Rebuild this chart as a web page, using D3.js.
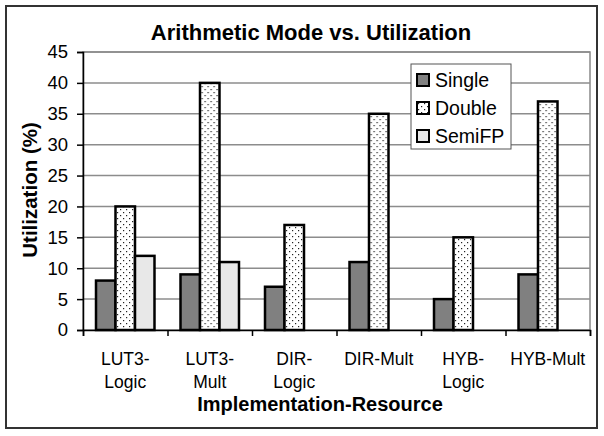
<!DOCTYPE html>
<html>
<head>
<meta charset="utf-8">
<script src="https://cdn.jsdelivr.net/npm/d3@7"></script>
<style>
  body { margin: 0; background: #fff; }
  text { font-family: "Liberation Sans", Arial, sans-serif; }
</style>
</head>
<body>
<div class="canvas"></div>
<script>
// Data
const categories = [['LUT3-', 'Logic'], ['LUT3-', 'Mult'], ['DIR-', 'Logic'], ['DIR-Mult'], ['HYB-', 'Logic'], ['HYB-Mult']];
const seriesNames = ['Single', 'Double', 'SemiFP'];
const single = [8, 9, 7, 11, 5, 9];
const double = [20, 40, 17, 35, 15, 37];
const semiFP = [12, 11, null, null, null, null];
const yTicks = [0, 5, 10, 15, 20, 25, 30, 35, 40, 45];

const width = 604, height = 436;
const margin = {top: 52, right: 14, bottom: 106, left: 83};
const graphWidth = width - margin.left - margin.right;
const graphHeight = height - margin.top - margin.bottom;

const svg = d3.select('.canvas')
    .append('svg')
    .attr('width', width)
    .attr('height', height);

// patterns
const defs = svg.append('defs');
const dots = defs.append('pattern')
    .attr('id', 'dots')
    .attr('patternUnits', 'userSpaceOnUse')
    .attr('width', 6)
    .attr('height', 6);
dots.append('rect').attr('width', 6).attr('height', 6).attr('fill', '#fff');
dots.append('rect').attr('x', 1).attr('y', 1).attr('width', 1.2).attr('height', 1.2).attr('fill', '#222');
dots.append('rect').attr('x', 4).attr('y', 4).attr('width', 1.2).attr('height', 1.2).attr('fill', '#222');

const fills = {Single: '#808080', Double: 'url(#dots)', SemiFP: '#e8e8e8'};

// outer frame
svg.append('rect')
    .attr('x', 6).attr('y', 6)
    .attr('width', 591).attr('height', 422)
    .attr('fill', '#fff')
    .attr('stroke', '#333')
    .attr('stroke-width', 2);

const graph = svg.append('g')
    .attr('transform', `translate(${margin.left}, ${margin.top})`);

const x0 = d3.scaleBand()
    .domain(d3.range(categories.length))
    .range([0, graphWidth]);

const x1 = d3.scaleBand()
    .domain(seriesNames)
    .range([0, x0.bandwidth()])
    .paddingInner(0)
    .paddingOuter(0.667);

const y = d3.scaleLinear().domain([0, 45]).range([graphHeight, 0]);

// plot area border + gridlines
graph.append('rect')
    .attr('width', graphWidth).attr('height', graphHeight)
    .attr('fill', '#fff')
    .attr('stroke', '#888')
    .attr('stroke-width', 1.5);

graph.append('g')
    .selectAll('line')
    .data(yTicks.slice(1))
    .enter().append('line')
    .attr('x1', 0).attr('x2', graphWidth)
    .attr('y1', d => y(d)).attr('y2', d => y(d))
    .attr('stroke', '#8c8c8c')
    .attr('stroke-width', 1.5);

// bars
const table = categories.map((c, i) => ({i, values: [single[i], double[i], semiFP[i]]}));

const groups = graph.selectAll('g.group')
    .data(table)
    .enter().append('g')
    .attr('class', 'group')
    .attr('transform', d => `translate(${x0(d.i)}, 0)`);

groups.selectAll('rect')
    .data(d => d.values.map((v, k) => ({name: seriesNames[k], value: v})).filter(e => e.value != null))
    .enter().append('rect')
    .attr('x', d => x1(d.name))
    .attr('width', x1.bandwidth())
    .attr('y', d => y(d.value))
    .attr('height', d => graphHeight - y(d.value))
    .attr('fill', d => fills[d.name])
    .attr('stroke', '#000')
    .attr('stroke-width', 2.5);

// Axes
const yAxis = d3.axisLeft(y)
    .tickValues(yTicks)
    .tickSize(6)
    .tickPadding(9);

const yAxisGroup = graph.append('g').call(yAxis);
yAxisGroup.select('.domain').attr('stroke', '#000').attr('stroke-width', 1.5);
yAxisGroup.selectAll('line').attr('stroke', '#000').attr('stroke-width', 1.5);
yAxisGroup.selectAll('text')
    .attr('font-size', 18.5)
    .attr('fill', '#000')
    .attr('font-family', '"Liberation Sans", Arial, sans-serif');

const xTickScale = d3.scaleLinear().domain([0, categories.length]).range([0, graphWidth]);
const xAxis = d3.axisBottom(xTickScale)
    .tickValues(d3.range(categories.length + 1))
    .tickSize(6)
    .tickFormat('');

const xAxisGroup = graph.append('g')
    .attr('transform', `translate(0, ${graphHeight})`)
    .call(xAxis);
xAxisGroup.select('.domain').attr('stroke', '#000').attr('stroke-width', 1.5);
xAxisGroup.selectAll('line').attr('stroke', '#000').attr('stroke-width', 1.5);

// category labels
const catLabels = graph.append('g')
    .selectAll('text')
    .data(categories)
    .enter().append('text')
    .attr('text-anchor', 'middle')
    .attr('font-size', 17.5)
    .attr('fill', '#000')
    .attr('transform', (d, i) => `translate(${x0(i) + x0.bandwidth() / 2}, ${graphHeight + 35})`);

catLabels.selectAll('tspan')
    .data(d => d)
    .enter().append('tspan')
    .attr('x', 0)
    .attr('dy', (d, i) => i === 0 ? 0 : 23)
    .text(d => d);

// title
svg.append('text')
    .attr('x', 311).attr('y', 40)
    .attr('text-anchor', 'middle')
    .attr('font-size', 22)
    .attr('font-weight', 'bold')
    .text('Arithmetic Mode vs. Utilization');

// axis titles
svg.append('text')
    .attr('x', 320).attr('y', 411)
    .attr('text-anchor', 'middle')
    .attr('font-size', 20)
    .attr('font-weight', 'bold')
    .text('Implementation-Resource');

svg.append('text')
    .attr('transform', 'translate(37, 190) rotate(-90)')
    .attr('text-anchor', 'middle')
    .attr('font-size', 20.5)
    .attr('font-weight', 'bold')
    .text('Utilization (%)');

// legend
const legend = svg.append('g').attr('transform', 'translate(411, 64)');
legend.append('rect')
    .attr('width', 100).attr('height', 85)
    .attr('fill', '#fff')
    .attr('stroke', '#555')
    .attr('stroke-width', 1);

const items = legend.selectAll('g.item')
    .data(seriesNames)
    .enter().append('g')
    .attr('class', 'item')
    .attr('transform', (d, i) => `translate(6, ${16 + i * 28})`);

items.append('rect')
    .attr('x', 0).attr('y', -6)
    .attr('width', 12).attr('height', 12)
    .attr('fill', d => fills[d])
    .attr('stroke', '#000')
    .attr('stroke-width', 2);

items.append('text')
    .attr('x', 18).attr('y', 7)
    .attr('font-size', 19.5)
    .text(d => d);
</script>
</body>
</html>
